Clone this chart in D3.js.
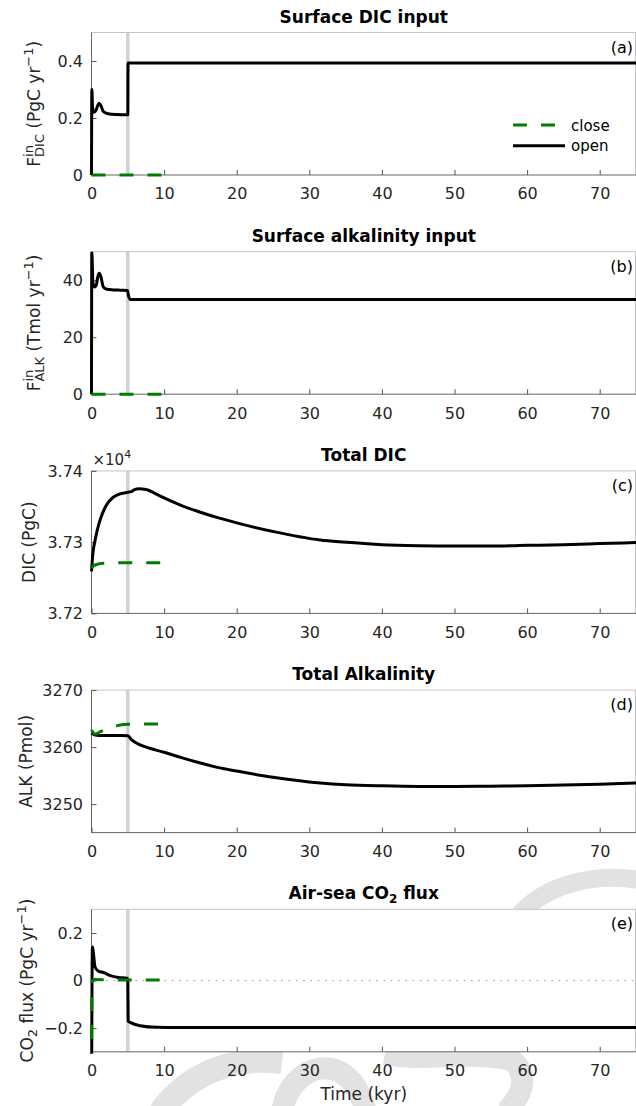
<!DOCTYPE html>
<html>
<head>
<meta charset="utf-8">
<script src="https://cdn.jsdelivr.net/npm/d3@7"></script>
<style>
body{margin:0;background:#fff}
svg{display:block;font-family:"DejaVu Sans",sans-serif}
</style>
</head>
<body>
<div id="viz-container"></div>
<script>
// ---- data (time in kyr) ----
const xTicks = [0,10,20,30,40,50,60,70];

// (a) surface DIC input, PgC/yr
const tDicInOpen = [0,0.05,0.15,0.35,0.6,0.85,1.05,1.3,1.6,2.0,2.5,3.5,4.5,5.0,5.03,20,40,60,75];
const dicInOpen  = [0,0.30,0.235,0.22,0.226,0.243,0.252,0.243,0.224,0.217,0.214,0.212,0.211,0.211,0.393,0.393,0.393,0.393,0.393];
const tDicInClose = [0,5,10];
const dicInClose  = [0,0,0];

// (b) surface alkalinity input, Tmol/yr
const tAlkInOpen = [0,0.04,0.2,0.4,0.65,0.85,1.05,1.3,1.6,2.0,3.0,4.0,4.95,5.1,5.35,20,40,60,75];
const alkInOpen  = [0,50,39,37.6,38.2,41.0,42.4,41.2,37.8,36.9,36.6,36.5,36.4,34.5,33.2,33.2,33.2,33.2,33.2];
const tAlkInClose = [0,5,10];
const alkInClose  = [0,0,0];

// (c) total DIC, PgC
const tDicOpen = [0,0.2,0.5,1,1.5,2,2.5,3,3.5,4,4.5,5,5.5,6,6.5,7.5,9,10,12.5,15,17.5,20,25,31.5,35,40,45,50,55,60,65,70,75];
const dicOpen  = [37259,37285,37303,37325,37340,37351,37358,37363,37366,37368,37369,37370,37371,37374,37375,37374,37367,37362,37351,37342,37334,37327,37315,37303,37300,37296.5,37295,37294.5,37294.5,37295.5,37296.5,37298,37299.5];
const tDicClose = [0,0.3,1,2,3,5,7,10];
const dicClose  = [37264,37267,37269.5,37270.5,37271,37271,37271,37271];

// (d) total alkalinity, Pmol
const tAlkOpen = [0,0.5,1,2,3,4,5,5.5,6.7,8,10,12.5,15,17.5,20,25,31.5,35,40,45,50,55,60,65,70,75];
const alkOpen  = [3262.5,3262.1,3262.05,3262.05,3262.05,3262.05,3262.0,3261.3,3260.4,3259.8,3259.1,3258.1,3257.2,3256.4,3255.8,3254.7,3253.7,3253.4,3253.2,3253.1,3253.1,3253.15,3253.2,3253.35,3253.5,3253.7];
const tAlkClose = [0,0.5,1.2,2,3.3,5,7,10];
const alkClose  = [3263.0,3262.3,3262.7,3263.1,3263.7,3264.0,3264.06,3264.06];

// (e) air-sea CO2 flux, PgC/yr
const tFluxOpen = [0,0.12,0.5,1.0,1.65,2.6,3.7,4.9,5.0,5.05,5.3,6.7,9,12,20,40,60,75];
const fluxOpen  = [-0.6,0.141,0.056,0.039,0.034,0.021,0.013,0.01,0.005,-0.17,-0.176,-0.19,-0.197,-0.198,-0.198,-0.198,-0.198,-0.198];
const tFluxClose = [0,0.06,0.4,3,10];
const fluxClose  = [-0.6,-0.005,0.004,0.003,0.002];

const seriesNames = ["close","open"];

// ---- layout ----
const W = 636, H = 1106;
const ph = 142.5;
const tops = [32.5, 251.7, 470.9, 690.1, 909.3];
const green = "#007c00";

let viz = d3.select("#viz-container")
  .append("svg")
    .attr("width", W)
    .attr("height", H);

// faint watermark behind the axes
const wm = viz.append("g").attr("fill","none").attr("stroke","#e2e2e2").attr("stroke-linecap","butt");
wm.append("path").attr("d","M 160 1112 C 190 1072, 235 1056, 282 1062").attr("stroke-width",24);
wm.append("path").attr("d","M 282 1112 C 290 1062, 350 1046, 366 1112").attr("stroke-width",22);
wm.append("path").attr("d","M 385 1054 C 425 1062, 470 1050, 512 1060 C 530 1076, 522 1096, 506 1112").attr("stroke-width",22);
wm.append("path").attr("d","M 520 914 C 545 886, 592 872, 640 880").attr("stroke-width",18);

let x = d3.scaleLinear().domain([0,75]).range([91.5,636]);

const trimFmt = d => d === 0 ? "0" : d3.format(".1f")(d).replace("-","\u2212");

const panels = [
  {title:"Surface DIC input", tag:"(a)", dom:[0,0.5], ticks:[0,0.2,0.4], fmt:trimFmt,
   open:[tDicInOpen,dicInOpen], close:[tDicInClose,dicInClose], lab:"fdic", labX:40},
  {title:"Surface alkalinity input", tag:"(b)", dom:[0,50], ticks:[0,20,40], fmt:d3.format("d"),
   open:[tAlkInOpen,alkInOpen], close:[tAlkInClose,alkInClose], lab:"falk", labX:40},
  {title:"Total DIC", tag:"(c)", dom:[37200,37400], ticks:[37200,37300,37400], fmt:d => (d/1e4).toFixed(2),
   open:[tDicOpen,dicOpen], close:[tDicClose,dicClose], lab:"dic", labX:35},
  {title:"Total Alkalinity", tag:"(d)", dom:[3245,3270], ticks:[3250,3260,3270], fmt:d3.format("d"),
   open:[tAlkOpen,alkOpen], close:[tAlkClose,alkClose], lab:"alk", labX:32},
  {title:"Air-sea CO2 flux", tag:"(e)", dom:[-0.3,0.3], ticks:[-0.2,0,0.2], fmt:trimFmt,
   open:[tFluxOpen,fluxOpen], close:[tFluxClose,fluxClose], lab:"flux", labX:33}
];

function toPts(s){
  return s[0].map((t,i) => [t, s[1][i]]);
}

panels.forEach((p,i) => {
  let top = tops[i], bot = top + ph;
  let y = d3.scaleLinear().domain(p.dom).range([bot, top]);
  let g = viz.append("g");

  // lines may spill a little over the box, as in the original
  g.append("clipPath").attr("id","clip"+i)
    .append("rect").attr("x",x(0)-2).attr("y",top).attr("width",x(75)-x(0)+2).attr("height",ph+2);

  g.append("rect").attr("x",x(0)).attr("y",top).attr("width",x(75)-x(0)).attr("height",ph).attr("fill","#fff");

  // grey marker at t = 5 kyr
  g.append("line").attr("x1",x(5)).attr("x2",x(5)).attr("y1",top).attr("y2",bot)
    .attr("stroke","#cfcfcf").attr("stroke-width",3.3);

  if (i === 4) {
    g.append("line").attr("x1",x(0)).attr("x2",x(75)).attr("y1",y(0)).attr("y2",y(0))
      .attr("stroke","#9a9a9a").attr("stroke-width",1).attr("stroke-dasharray","1.5,5.8");
  }

  // box lines under the data
  g.append("line").attr("x1",x(0)).attr("x2",x(75)).attr("y1",top).attr("y2",top).attr("stroke","#c4c4c4");
  g.append("line").attr("x1",635.5).attr("x2",635.5).attr("y1",top).attr("y2",bot).attr("stroke","#c4c4c4");
  g.append("line").attr("x1",x(0)).attr("x2",x(75)).attr("y1",bot).attr("y2",bot).attr("stroke","#666");
  g.append("line").attr("x1",x(0)).attr("x2",x(0)).attr("y1",top).attr("y2",bot).attr("stroke","#666");

  // axes
  let xa = g.append("g").attr("transform","translate(0,"+bot+")")
    .call(d3.axisBottom(x).tickValues(xTicks).tickSizeInner(-5).tickSizeOuter(0).tickPadding(13));
  let ya = g.append("g").attr("transform","translate("+x(0)+",0)")
    .call(d3.axisLeft(y).tickValues(p.ticks).tickFormat(p.fmt).tickSizeInner(-5).tickSizeOuter(0).tickPadding(8.5));
  [xa,ya].forEach(a => {
    a.select(".domain").remove();
    a.selectAll("text").attr("font-size",16).attr("fill","#262626").attr("font-family","DejaVu Sans");
    a.selectAll("line").attr("stroke","#555");
  });

  let line = d3.line().x(d => x(d[0])).y(d => y(d[1])).curve(d3.curveMonotoneX);
  let lines = g.append("g").attr("clip-path","url(#clip"+i+")");
  lines.append("path").datum(toPts(p.open)).attr("d",line)
    .attr("fill","none").attr("stroke","#000").attr("stroke-width",3).attr("stroke-linejoin","round");
  lines.append("path").datum(toPts(p.close)).attr("d",line)
    .attr("fill","none").attr("stroke",green).attr("stroke-width",3).attr("stroke-dasharray","14,14");

  // title
  let tt = g.append("text").attr("x",(x(0)+x(75))/2).attr("y",top-10).attr("text-anchor","middle")
    .attr("font-size",17).attr("font-weight","bold").attr("fill","#000");
  if (i === 4) {
    tt.text("Air-sea CO");
    tt.append("tspan").attr("font-size",12).attr("dy",4).text("2");
    tt.append("tspan").attr("dy",-4).text(" flux");
  } else {
    tt.text(p.title);
  }

  // panel tag
  g.append("text").attr("x",633).attr("y",top+20).attr("text-anchor","end")
    .attr("font-size",16).attr("fill","#000").text(p.tag);

  // y label
  let yl = g.append("text").attr("transform","translate("+p.labX+","+(top+ph/2)+") rotate(-90)")
    .attr("text-anchor","middle").attr("font-size",17).attr("fill","#262626");
  if (p.lab === "fdic" || p.lab === "falk") {
    let sub = p.lab === "fdic" ? "DIC" : "ALK";
    let unit = p.lab === "fdic" ? " (PgC yr" : " (Tmol yr";
    yl.append("tspan").text("F");
    yl.append("tspan").attr("font-size",13).attr("dy",-7).text("in");
    yl.append("tspan").attr("font-size",13).attr("dx",-11.9).attr("dy",11).text(sub);
    yl.append("tspan").attr("dy",-4).text(unit);
    yl.append("tspan").attr("font-size",13).attr("dy",-7).text("\u22121");
    yl.append("tspan").attr("dy",7).text(")");
  } else if (p.lab === "dic") {
    yl.text("DIC (PgC)");
  } else if (p.lab === "alk") {
    yl.text("ALK (Pmol)");
  } else {
    yl.append("tspan").text("CO");
    yl.append("tspan").attr("font-size",13).attr("dy",4).text("2");
    yl.append("tspan").attr("dy",-4).text(" flux (PgC yr");
    yl.append("tspan").attr("font-size",13).attr("dy",-7).text("\u22121");
    yl.append("tspan").attr("dy",7).text(")");
  }

  if (i === 2) {
    let ex = g.append("text").attr("x",x(0)+1).attr("y",top-6).attr("font-size",15).attr("fill","#262626");
    ex.append("tspan").text("\u00d710");
    ex.append("tspan").attr("font-size",11).attr("dy",-7).text("4");
  }

  if (i === 0) {
    let leg = g.append("g");
    seriesNames.forEach((nm,k) => {
      let ly = top + 92.5 + k*20.7;
      leg.append("line").attr("x1",513).attr("x2",565).attr("y1",ly).attr("y2",ly)
        .attr("stroke", nm === "close" ? green : "#000").attr("stroke-width",3)
        .attr("stroke-dasharray", nm === "close" ? "14,14" : null);
      leg.append("text").attr("x",571).attr("y",ly+5.5).attr("font-size",15).attr("fill","#000").text(nm);
    });
  }
});

viz.append("text").attr("x",(x(0)+x(75))/2).attr("y",1100).attr("text-anchor","middle")
  .attr("font-size",17).attr("fill","#262626").text("Time (kyr)");
</script>
</body>
</html>
